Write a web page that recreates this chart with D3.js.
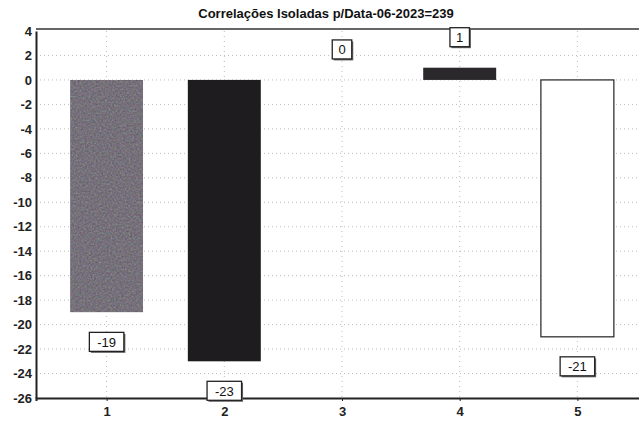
<!DOCTYPE html>
<html>
<head>
<meta charset="utf-8">
<script src="https://cdn.jsdelivr.net/npm/d3@7"></script>
<style>
  body { margin: 0; background: #fff; }
  svg { display: block; font-family: Arial, "Liberation Sans", sans-serif; }
</style>
</head>
<body>
<svg id="chart" width="639" height="423"></svg>
<script>
// Correlation values per category
const categories = [1, 2, 3, 4, 5];
const values = [-19, -23, 0, 1, -21];
const barColors = ["#716c76", "#1e1c1e", "#1e1c1e", "#2a282b", "#ffffff"];
const yTicks = [4, 2, 0, -2, -4, -6, -8, -10, -12, -14, -16, -18, -20, -22, -24, -26];
const title = "Correlações Isoladas p/Data-06-2023=239";

const svg = d3.select("#chart");
const plotL = 36, plotR = 648, plotT = 31, plotB = 398;

const x = d3.scaleLinear().domain([0.4, 5.6]).range([plotL, plotR]);
const y = d3.scaleLinear().domain([4, -26]).range([plotT, plotB]);
const barW = x(0.62) - x(0);

// speckled texture for the first bar
const defs = svg.append("defs");
const f = defs.append("filter").attr("id", "grain").attr("x", 0).attr("y", 0).attr("width", 1).attr("height", 1);
f.append("feTurbulence").attr("type", "fractalNoise").attr("baseFrequency", 0.55).attr("numOctaves", 2).attr("seed", 5).attr("result", "n");
f.append("feComposite").attr("in", "SourceGraphic").attr("in2", "n").attr("operator", "arithmetic")
  .attr("k1", 0).attr("k2", 1).attr("k3", 0.3).attr("k4", -0.06).attr("result", "m");
f.append("feComposite").attr("in", "m").attr("in2", "SourceGraphic").attr("operator", "in");

// title
svg.append("text").attr("x", 326).attr("y", 18).attr("text-anchor", "middle")
  .attr("font-size", 13).attr("font-weight", "bold").attr("fill", "#111").text(title);

// dotted grid
svg.append("g").selectAll("line").data(yTicks.filter(d => d !== 4 && d !== -26)).join("line")
  .attr("x1", plotL).attr("x2", plotR).attr("y1", d => y(d)).attr("y2", d => y(d))
  .attr("stroke", "#bbb").attr("stroke-width", 1).attr("stroke-dasharray", "1,3");
svg.append("g").selectAll("line").data(categories).join("line")
  .attr("x1", d => x(d)).attr("x2", d => x(d)).attr("y1", plotT).attr("y2", plotB)
  .attr("stroke", "#bbb").attr("stroke-width", 1).attr("stroke-dasharray", "1,4");

// bars
svg.append("g").selectAll("rect").data(values).join("rect")
  .attr("x", (d, i) => x(categories[i]) - barW / 2)
  .attr("y", d => y(Math.max(0, d)))
  .attr("width", barW)
  .attr("height", d => Math.abs(y(d) - y(0)))
  .attr("fill", (d, i) => barColors[i])
  .attr("stroke", (d, i) => i === 4 ? "#222" : "none")
  .attr("stroke-width", 1.2)
  .attr("filter", (d, i) => i === 0 ? "url(#grain)" : null);

// axes
const yAxis = svg.append("g").attr("transform", `translate(${plotL},0)`)
  .call(d3.axisLeft(y).tickValues(yTicks).tickFormat(d => String(d)).tickSize(0).tickPadding(4));
yAxis.select(".domain").attr("stroke", "#222").attr("stroke-width", 2);
yAxis.selectAll("text").attr("font-size", 13).attr("font-weight", "bold").attr("fill", "#222")
  .attr("font-family", "Arial, 'Liberation Sans', sans-serif");

const xAxis = svg.append("g").attr("transform", `translate(0,${plotB})`)
  .call(d3.axisBottom(x).tickValues(categories).tickFormat(d => String(d)).tickSize(3).tickPadding(6));
xAxis.select(".domain").attr("stroke", "#222").attr("stroke-width", 2);
xAxis.selectAll("line").attr("stroke", "#222");
xAxis.selectAll("text").attr("font-size", 13).attr("font-weight", "bold").attr("fill", "#222")
  .attr("font-family", "Arial, 'Liberation Sans', sans-serif");

// top frame line
svg.append("line").attr("x1", plotL).attr("x2", plotR).attr("y1", plotT - 2).attr("y2", plotT - 2)
  .attr("stroke", "#333").attr("stroke-width", 1.5);

// boxed value labels
const boxW = d => String(d).length * 7.5 + 12;
const lab = svg.append("g").selectAll("g").data(values).join("g")
  .attr("transform", (d, i) => `translate(${x(categories[i])},${d < 0 ? y(d) + 30 : y(d) - 30})`);
lab.append("rect").attr("x", d => -boxW(d) / 2 + 1.5).attr("y", -8.5)
  .attr("width", boxW).attr("height", 19).attr("fill", "#666");
lab.append("rect").attr("x", d => -boxW(d) / 2).attr("y", -10)
  .attr("width", boxW).attr("height", 19)
  .attr("fill", "#fff").attr("stroke", "#222").attr("stroke-width", 1.3);
lab.append("text").attr("text-anchor", "middle").attr("y", 4.5).attr("font-size", 13)
  .attr("fill", "#111").text(d => String(d));
</script>
</body>
</html>
